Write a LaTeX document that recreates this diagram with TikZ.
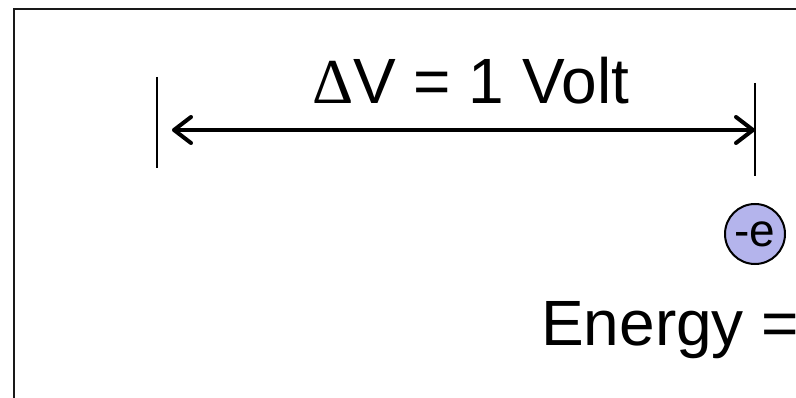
\documentclass[tikz,border=0pt]{standalone}
\usepackage{fontspec}
\setmainfont{Liberation Sans}
\newfontfamily\deltafont{Liberation Serif}
\usetikzlibrary{arrows.meta}
\definecolor{electron}{RGB}{180,180,236}
\tikzset{
  frameline/.style={line width=2.6pt, draw=black!90},
  tickline/.style={line width=1.2pt, draw=black},
  dimarrow/.style={line width=4pt, {Straight Barb[length=17pt,width=26pt,round]}-{Straight Barb[length=17pt,width=26pt,round]}},
  bigtext/.style={font=\fontsize{64}{70}\selectfont, inner sep=0pt},
  charge/.style={circle, draw=black, line width=2pt, fill=electron, minimum size=60pt, inner sep=0pt, font=\fontsize{46}{50}\selectfont}
}
\begin{document}
\begin{tikzpicture}[x=1pt,y=-1pt]
\useasboundingbox (0,0) rectangle (796,398);
% frame
\coordinate (fbl) at (14,420);
\coordinate (ftl) at (14,9);
\coordinate (ftr) at (820,9);
\draw[frameline] (fbl) -- (ftl) -- (ftr);
% ticks
\coordinate (lt1) at (157,77);
\coordinate (lt2) at (157,168);
\coordinate (rt1) at (755,83);
\coordinate (rt2) at (755,176);
\draw[tickline] (lt1) -- (lt2);
\draw[tickline] (rt1) -- (rt2);
% arrow
\coordinate (al) at (172,130);
\coordinate (ar) at (755,130);
\draw[dimarrow] (al) -- (ar);
% label
\node[bigtext, anchor=base west] (dv) at (312,104) {{\deltafont Δ}V = 1 Volt};
% electron
\node[charge] (e) at (755,234) {-e};
% energy
\node[bigtext, anchor=base west] (en) at (541,346) {Energy =};
\end{tikzpicture}
\end{document}
